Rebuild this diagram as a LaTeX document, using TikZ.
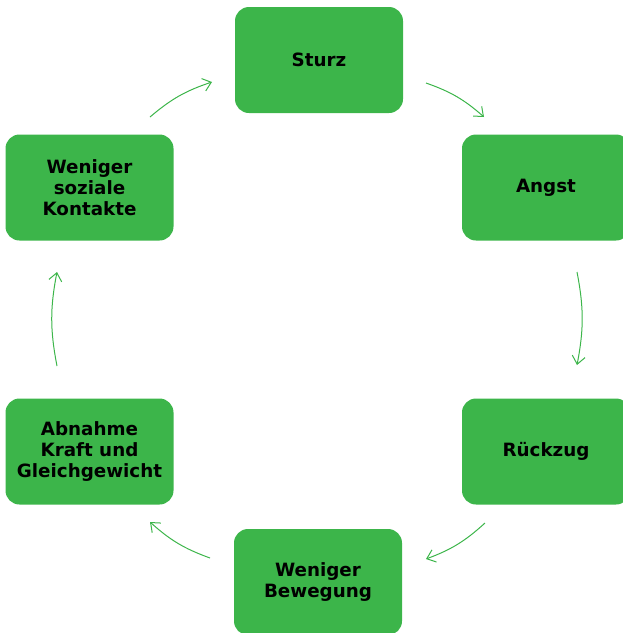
\documentclass[tikz,border=0pt]{standalone}
\usepackage{fontspec}
\setmainfont{DejaVu Sans}
\usetikzlibrary{arrows.meta}
\definecolor{boxgreen}{RGB}{60,181,74}

\begin{document}
\begin{tikzpicture}[x=1pt, y=1pt,
  box/.style = {fill=boxgreen, rounded corners=14pt, minimum width=168pt, minimum height=106pt,
    align=center, font=\fontsize{18.3}{20.8}\selectfont\bfseries, inner sep=0pt},
  cyc/.style = {draw=boxgreen, line width=1pt, -{Straight Barb[length=8pt,width=13pt]}, bend left=11}]
\useasboundingbox (0,0) rectangle (623,-633);

\node[box] (sturz)    at (319,-60)    {Sturz};
\node[box] (angst)    at (546,-187.5) {Angst};
\node[box] (rueckzug) at (546,-451.5) {Rückzug};
\node[box] (bewegung) at (318,-582)   {Weniger\\Bewegung};
\node[box] (abnahme)  at (89.5,-451.5) {Abnahme\\Kraft und\\Gleichgewicht};
\node[box] (kontakte) at (89.5,-187.5) {Weniger\\soziale\\Kontakte};

% arrow ends
\coordinate (a1) at (150,-117); \coordinate (b1) at (212,-82);
\coordinate (a2) at (426,-83);  \coordinate (b2) at (484,-117);
\coordinate (a3) at (577,-272); \coordinate (b3) at (577,-365);
\coordinate (a4) at (485,-523); \coordinate (b4) at (426,-559);
\coordinate (a5) at (210,-558); \coordinate (b5) at (150,-522);
\coordinate (a6) at (57,-366);  \coordinate (b6) at (57,-272);

\foreach \i in {1,...,6} {\draw[cyc] (a\i) to (b\i);}

\end{tikzpicture}
\end{document}
